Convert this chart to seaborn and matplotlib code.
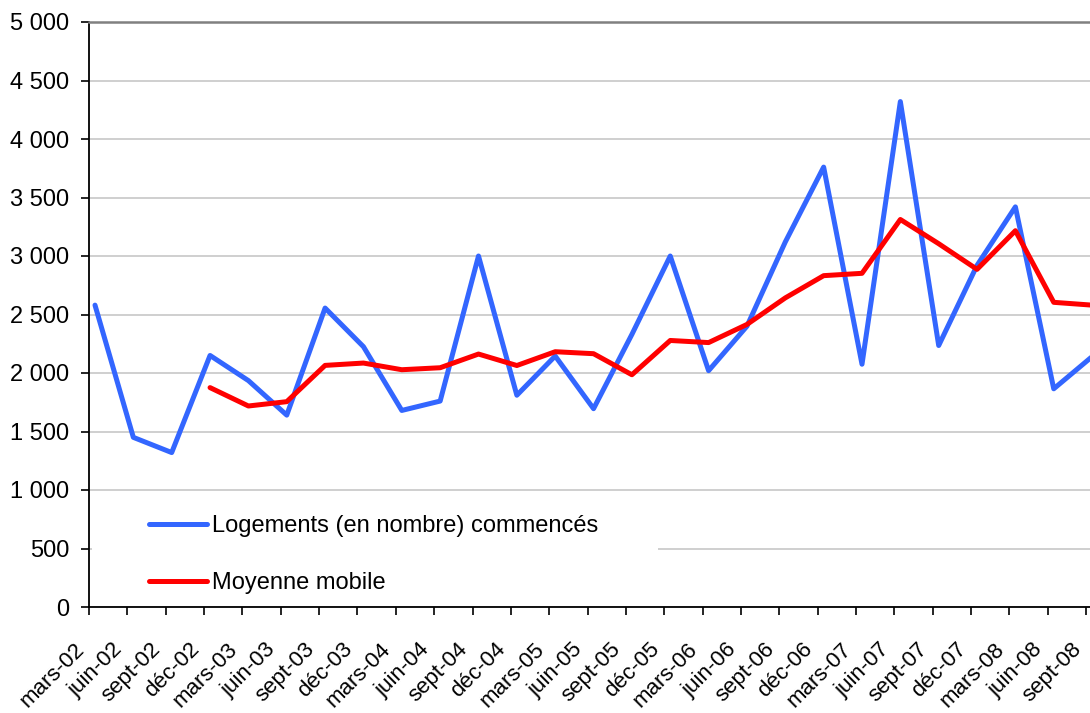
import numpy as np
import pandas as pd
import matplotlib
matplotlib.use("Agg")
import matplotlib.pyplot as plt
from matplotlib.ticker import FuncFormatter
from matplotlib.patches import Rectangle
from matplotlib.transforms import ScaledTranslation
import seaborn as sns

quarters = ["mars-02", "juin-02", "sept-02", "déc-02",
            "mars-03", "juin-03", "sept-03", "déc-03",
            "mars-04", "juin-04", "sept-04", "déc-04",
            "mars-05", "juin-05", "sept-05", "déc-05",
            "mars-06", "juin-06", "sept-06", "déc-06",
            "mars-07", "juin-07", "sept-07", "déc-07",
            "mars-08", "juin-08", "sept-08"]
logements = [2580, 1450, 1320, 2150, 1935, 1640, 2555, 2225, 1680, 1760,
             3000, 1810, 2145, 1695, 2330, 3000, 2020, 2400, 3120, 3760,
             2075, 4320, 2235, 2920, 3420, 1865, 2140]
moyenne = [np.nan, np.nan, np.nan, 1875, 1718, 1755, 2065, 2085, 2028, 2045,
           2162, 2064, 2182, 2165, 1985, 2278, 2260, 2415, 2642, 2832,
           2852, 3312, 3105, 2886, 3216, 2604, 2580]

df = pd.DataFrame({"idx": np.arange(len(quarters)), "trimestre": quarters,
                   "logements": logements, "moyenne": moyenne})

sns.set_theme(style="white")
plt.rcParams["font.family"] = ["Liberation Sans", "DejaVu Sans"]
plt.rcParams["text.color"] = "black"
plt.rcParams["xtick.color"] = "black"
plt.rcParams["ytick.color"] = "black"

fig = plt.figure(figsize=(10.9, 7.13), dpi=100)
ax = fig.add_axes([89 / 1090, 1 - 607 / 713, 1001 / 1090, 585 / 713])

sns.lineplot(x="idx", y="logements", data=df, color="#3366FF", linewidth=3.6,
             label="Logements (en nombre) commencés", ax=ax, zorder=3)
sns.lineplot(x="idx", y="moyenne", data=df.dropna(), color="#FF0000", linewidth=3.6,
             label="Moyenne mobile", ax=ax, zorder=3)

off = 6 / 38.35
ax.set_xticks(df["idx"] - off)
ax.set_xticklabels([])
ax.set_xlim(-off, -off + 1001 / 38.35)
ax.set_ylim(0, 5000)
ax.set_yticks(np.arange(0, 5001, 500))
ax.yaxis.set_major_formatter(FuncFormatter(lambda v, p: f"{int(v):,}".replace(",", " ")))
ax.set_xlabel("")
ax.set_ylabel("")

# category labels, nudged left/down of each tick as Excel draws them
lab_tr = ax.get_xaxis_transform() + ScaledTranslation(-8 / 100, -39 / 100, fig.dpi_scale_trans)
for i, q in enumerate(quarters):
    ax.text(i - off, 0, q, transform=lab_tr, rotation=45, ha="right", va="center",
            rotation_mode="anchor", fontsize=16)

ax.grid(axis="y", color="#cccccc", linewidth=1.3)
ax.set_axisbelow(True)
for s in ["left", "bottom"]:
    ax.spines[s].set_color("black")
    ax.spines[s].set_linewidth(1.3)
ax.spines["top"].set_color("#808080")
ax.spines["top"].set_linewidth(1.8)
ax.spines["right"].set_visible(False)
ax.tick_params(axis="both", direction="out", length=6, width=1.2, color="black",
               left=True, bottom=True)
ax.tick_params(axis="y", labelsize=17, pad=8)

# white legend area hiding the gridline, as in the reference
ax.add_patch(Rectangle((0.003, 0.007), 0.565, 0.176, transform=ax.transAxes,
                       facecolor="white", edgecolor="none", zorder=1.5))
leg = ax.legend(loc="upper left", bbox_to_anchor=(0.06, 0.157), fontsize=17,
                frameon=False, handlelength=2.45, handletextpad=0.2,
                labelspacing=1.47, borderpad=0, borderaxespad=0)

plt.savefig("out.png", dpi=100)
plt.close()
